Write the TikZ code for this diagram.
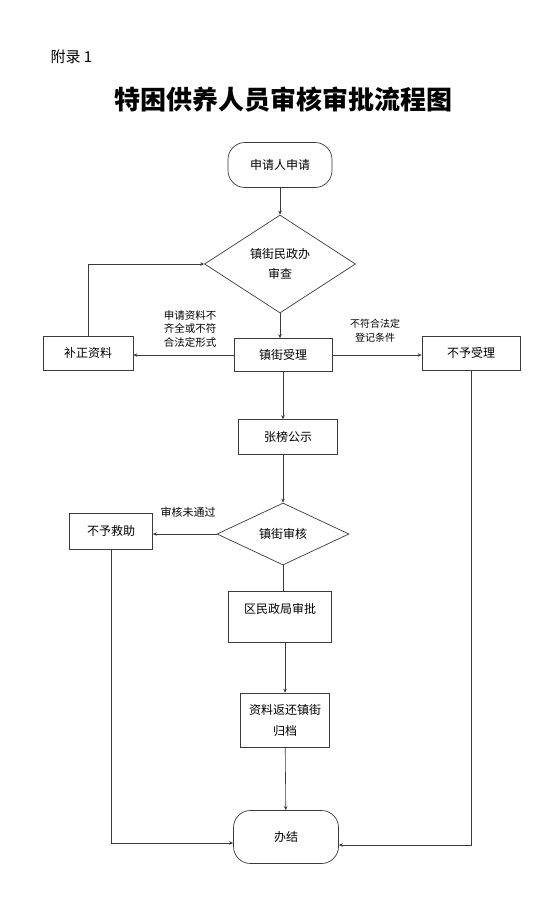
\documentclass[tikz,border=0pt]{standalone}
\usepackage{fontspec}
\setmainfont{Noto Sans CJK SC}
\usetikzlibrary{arrows.meta,shapes.geometric}
\definecolor{ink}{HTML}{3A3A3A}

\tikzset{
  base/.style={draw=ink, line width=0.7pt, align=center, inner sep=2pt,
    font=\fontsize{12}{20}\selectfont},
  procbox/.style={base, rectangle},
  termbox/.style={base, rectangle, rounded corners=17pt},
  decide/.style={base, diamond, inner sep=0pt},
  note/.style={align=center, inner sep=0pt, font=\fontsize{10.5}{13.5}\selectfont},
  flow/.style={draw=ink, line width=0.6pt, -{Stealth[length=4pt,width=3.5pt]}},
  link/.style={draw=ink, line width=0.6pt},
}

\begin{document}
\begin{tikzpicture}[x=1pt,y=-1pt]
\useasboundingbox (0,0) rectangle (552,918);
% headings
\node[anchor=west, font=\fontsize{15}{15}\selectfont] (appx) at (47,57) {附录 1};
\node[font=\bfseries\fontsize{26}{26}\selectfont] (title) at (283,100) {特困供养人员审核审批流程图};
% steps
\node[termbox, minimum width=104, minimum height=45] (apply) at (280,165) {申请人申请};
\node[decide, minimum width=151, minimum height=98] (check) at (280,264) {镇街民政办\\审查};
\node[procbox, minimum width=98, minimum height=33] (accept) at (283,355) {镇街受理};
\node[procbox, minimum width=90, minimum height=34] (fix) at (88,353) {补正资料};
\node[procbox, minimum width=98, minimum height=34] (reject) at (471,353) {不予受理};
\node[procbox, minimum width=99, minimum height=35] (post) at (288,437) {张榜公示};
\node[decide, minimum width=132, minimum height=62] (review) at (283,534) {镇街审核};
\node[procbox, minimum width=83, minimum height=36] (deny) at (111,531) {不予救助};
\node[procbox, minimum width=103, minimum height=51, text height=10pt, text depth=17pt] (approve) at (280,617) {区民政局审批};
\node[procbox, minimum width=89, minimum height=54, font=\fontsize{12}{21}\selectfont] (archive) at (285,720) {资料返还镇街\\归档};
\node[termbox, minimum width=105, minimum height=53] (done) at (286,837) {办结};
% labels
\node[note] (lblfix) at (190,329) {申请资料不\\齐全或不符\\合法定形式};
\node[note, font=\fontsize{10}{14}\selectfont] (lblrej) at (375,331) {不符合法定\\登记条件};
\node[note, font=\fontsize{11}{13}\selectfont] (lbldeny) at (188,512) {审核未通过};
% connectors
\draw[flow] (apply) -- (check);
\draw[flow] (check.south) -- (check.south |- accept.north);
\draw[flow] (accept.west) -- (accept.west -| fix.east);
\draw[flow] (fix.north) |- (check.west);
\draw[flow] (accept.east) -- (accept.east -| reject.west);
\draw[flow] (accept.south) -- (accept.south |- post.north);
\draw[flow] (post.south -| review.north) -- (review.north);
\draw[flow] (review.west) -- (review.west -| deny.east);
\draw[link] (review.south) -- (review.south |- approve.north);
\draw[flow] (approve.south -| archive.north) -- (archive.north);
\draw[flow] (archive) -- (done);
\draw[flow] (deny.south) |- ([yshift=-6pt]done.west);
\draw[flow] (reject.south) |- ([yshift=-8pt]done.east);
\end{tikzpicture}
\end{document}
